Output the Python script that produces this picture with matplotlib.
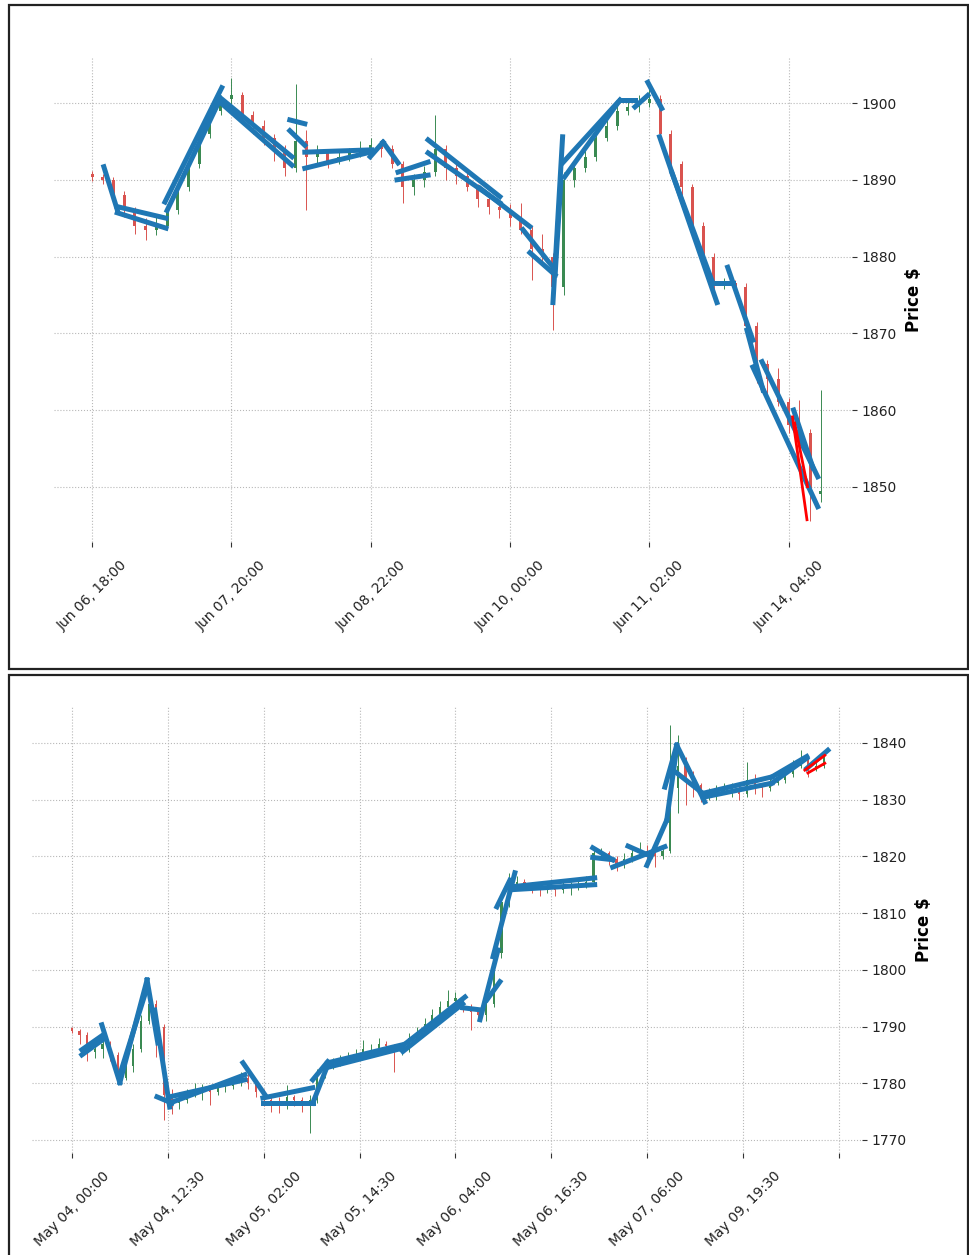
import numpy as np
import matplotlib
matplotlib.use("Agg")
import matplotlib.pyplot as plt
from matplotlib.patches import Rectangle

# --- June session (hourly index, one candle every 2 bars) ---
jun_open0 = 1890.8
jun_close = [1890.3, 1890.0, 1888.0, 1886.0, 1884.0, 1883.5, 1884.0, 1886.0, 1889.0, 1892.0,
             1896.0, 1899.0, 1900.5, 1901.0, 1898.5, 1897.0, 1895.5, 1894.0, 1891.5, 1895.0,
             1893.0, 1893.5, 1892.5, 1893.0, 1893.5, 1894.0, 1894.5, 1894.0, 1892.0, 1889.0,
             1890.0, 1891.0, 1894.0, 1891.5, 1890.5, 1889.0, 1887.5, 1886.5, 1886.0, 1885.0,
             1883.5, 1881.0, 1880.0, 1876.0, 1890.0, 1891.5, 1893.0, 1895.5, 1897.0, 1899.0,
             1899.5, 1900.0, 1900.5, 1896.0, 1892.0, 1889.0, 1884.0, 1880.0, 1876.5, 1876.5,
             1876.0, 1871.0, 1866.0, 1864.0, 1861.0, 1858.0, 1857.0, 1849.0, 1849.5]
jun_high = [1891.2, 1890.8, 1890.4, 1888.5, 1886.4, 1885.0, 1885.2, 1886.8, 1889.6, 1892.8,
            1896.5, 1899.8, 1901.0, 1903.2, 1901.5, 1899.0, 1897.8, 1896.0, 1894.5, 1902.5,
            1896.5, 1894.5, 1894.0, 1893.8, 1894.2, 1895.0, 1895.5, 1895.0, 1894.5, 1892.5,
            1890.8, 1891.8, 1898.5, 1894.5, 1892.0, 1891.0, 1889.5, 1888.0, 1887.0, 1886.8,
            1887.0, 1884.0, 1883.0, 1880.5, 1891.0, 1892.5, 1894.5, 1896.5, 1898.0, 1899.8,
            1900.5, 1901.0, 1902.8, 1901.0, 1896.5, 1892.5, 1889.5, 1884.5, 1880.5, 1877.2,
            1877.0, 1876.5, 1871.5, 1866.5, 1865.5, 1861.5, 1861.3, 1857.5, 1862.6]
jun_low = [1889.8, 1889.5, 1887.5, 1885.2, 1883.0, 1882.2, 1882.8, 1883.5, 1885.5, 1888.5,
           1891.5, 1895.5, 1898.5, 1899.8, 1897.8, 1896.0, 1894.5, 1892.5, 1890.5, 1891.0,
           1886.0, 1891.8, 1891.5, 1892.0, 1892.5, 1893.0, 1893.5, 1893.0, 1891.5, 1887.0,
           1888.0, 1889.0, 1890.5, 1890.0, 1889.5, 1888.5, 1886.5, 1885.5, 1885.0, 1884.0,
           1883.0, 1877.0, 1879.0, 1870.4, 1875.0, 1889.0, 1891.0, 1892.5, 1895.0, 1896.5,
           1898.5, 1898.8, 1899.5, 1895.5, 1891.0, 1888.0, 1883.0, 1879.0, 1875.5, 1875.8,
           1875.5, 1870.5, 1863.5, 1861.5, 1860.5, 1857.0, 1856.5, 1845.5, 1848.0]
jun_ticks = ["Jun 06, 18:00", "Jun 07, 20:00", "Jun 08, 22:00",
             "Jun 10, 00:00", "Jun 11, 02:00", "Jun 14, 04:00"]

# trend segments drawn over the June candles: (x0, y0, x1, y1)
jun_lines = [(2.2, 1891.7, 4.7, 1886.1), (4.7, 1886.5, 13.8, 1885.0), (4.7, 1885.7, 13.8, 1883.7),
             (13.6, 1887.1, 24.2, 1902.0), (14.0, 1886.0, 23.9, 1900.5),
             (23.9, 1900.7, 37.3, 1893.0), (23.9, 1900.1, 37.3, 1891.9),
             (36.9, 1897.8, 39.7, 1897.3), (36.9, 1896.4, 39.7, 1894.5),
             (39.7, 1893.6, 52.2, 1893.9), (39.7, 1891.5, 51.9, 1893.6),
             (51.9, 1893.0, 54.3, 1894.9), (54.3, 1894.9, 57.1, 1892.2),
             (56.9, 1890.0, 62.7, 1890.6), (57.1, 1891.0, 62.7, 1892.3),
             (62.7, 1895.2, 76.1, 1887.8), (62.7, 1893.5, 76.1, 1887.0),
             (72.4, 1888.9, 81.7, 1883.9), (80.4, 1883.5, 86.0, 1878.6),
             (81.7, 1880.5, 86.4, 1877.6), (86.0, 1874.0, 87.8, 1895.6),
             (86.4, 1877.6, 87.5, 1890.0), (87.8, 1892.2, 98.5, 1900.4),
             (88.2, 1890.4, 98.1, 1900.0), (98.5, 1900.4, 101.3, 1900.4),
             (101.3, 1899.5, 103.7, 1901.0), (103.7, 1902.7, 106.3, 1899.3),
             (105.9, 1895.6, 116.6, 1874.0), (108.2, 1890.9, 115.8, 1876.6),
             (115.8, 1876.6, 119.6, 1876.6), (118.6, 1878.6, 123.3, 1869.1),
             (122.2, 1870.4, 125.2, 1862.6), (125.0, 1866.3, 135.4, 1851.3),
             (123.3, 1865.6, 135.4, 1847.4), (130.9, 1860.0, 134.5, 1852.5)]
jun_red = [(130.7, 1859.1, 133.4, 1845.7), (131.1, 1858.3, 133.5, 1850.0)]

# --- May session (half-hour index, one candle every 2 bars) ---
may_open0 = 1789.8
may_close = [1789.2, 1788.5, 1785.5, 1786.0, 1787.0, 1785.0, 1781.0, 1783.0, 1786.0, 1791.0,
             1794.0, 1790.0, 1778.0, 1776.5, 1777.0, 1778.0, 1778.5, 1779.0, 1778.5, 1779.5,
             1779.5, 1780.0, 1781.0, 1780.0, 1778.5, 1777.0, 1776.5, 1776.0, 1777.5, 1777.0,
             1776.0, 1777.0, 1781.5, 1783.0, 1783.5, 1784.0, 1784.5, 1785.0, 1786.0, 1786.0,
             1787.0, 1786.5, 1786.0, 1786.0, 1788.0, 1789.0, 1790.5, 1792.0, 1793.5, 1794.5,
             1795.0, 1793.5, 1792.5, 1792.0, 1794.0, 1803.0, 1812.0, 1815.0, 1815.5, 1815.0,
             1814.5, 1814.0, 1814.5, 1814.0, 1814.5, 1814.5, 1815.0, 1815.5, 1820.5, 1820.5,
             1819.5, 1818.5, 1819.5, 1820.5, 1821.0, 1820.5, 1820.0, 1821.0, 1832.0, 1836.0,
             1834.0, 1832.5, 1831.0, 1831.0, 1831.5, 1832.0, 1832.0, 1831.0, 1833.5, 1832.5,
             1832.0, 1833.0, 1833.5, 1834.5, 1836.0, 1837.0, 1835.5, 1836.0, 1837.5]
may_high = [1790.0, 1789.6, 1789.0, 1787.0, 1788.0, 1787.5, 1785.5, 1784.0, 1787.0, 1792.0,
            1795.0, 1794.7, 1790.5, 1779.0, 1778.5, 1779.0, 1780.0, 1779.8, 1779.5, 1780.3,
            1780.5, 1781.0, 1782.0, 1781.8, 1780.5, 1779.0, 1777.5, 1777.5, 1779.7, 1778.0,
            1777.5, 1778.0, 1782.5, 1784.0, 1784.5, 1785.0, 1785.5, 1786.0, 1787.6, 1787.0,
            1788.0, 1787.5, 1787.0, 1787.0, 1788.8, 1790.0, 1791.5, 1793.0, 1794.5, 1796.5,
            1796.0, 1795.5, 1794.0, 1793.0, 1794.7, 1804.0, 1812.8, 1817.0, 1816.5, 1816.0,
            1815.5, 1815.0, 1815.2, 1815.0, 1815.5, 1815.5, 1816.0, 1816.5, 1821.5, 1821.5,
            1821.0, 1820.0, 1820.5, 1821.5, 1822.5, 1822.0, 1821.0, 1822.0, 1843.1, 1841.4,
            1837.5, 1835.0, 1833.0, 1832.0, 1832.5, 1833.0, 1833.0, 1832.5, 1836.6, 1834.5,
            1833.0, 1834.0, 1834.5, 1835.5, 1837.0, 1838.7, 1837.5, 1837.0, 1838.5]
may_low = [1788.8, 1787.0, 1784.0, 1784.5, 1784.5, 1784.0, 1780.0, 1780.5, 1782.0, 1785.5,
           1790.5, 1784.6, 1773.6, 1774.5, 1775.5, 1776.5, 1777.5, 1777.0, 1776.2, 1778.0,
           1778.5, 1779.0, 1779.5, 1779.0, 1777.5, 1776.0, 1775.0, 1774.8, 1775.5, 1776.0,
           1775.0, 1771.3, 1776.5, 1781.0, 1782.5, 1783.0, 1783.5, 1784.0, 1784.5, 1785.0,
           1785.5, 1785.5, 1782.0, 1785.0, 1785.5, 1787.5, 1788.5, 1790.0, 1791.5, 1792.5,
           1793.5, 1792.5, 1789.4, 1791.0, 1791.0, 1793.5, 1802.0, 1811.0, 1814.0, 1814.0,
           1813.5, 1813.0, 1813.5, 1813.0, 1813.5, 1813.2, 1814.0, 1814.5, 1815.0, 1819.5,
           1818.5, 1817.5, 1818.0, 1819.0, 1820.0, 1819.5, 1818.1, 1819.5, 1820.5, 1827.6,
           1829.0, 1830.5, 1829.5, 1830.0, 1830.0, 1831.0, 1830.5, 1830.0, 1830.5, 1831.0,
           1830.5, 1831.5, 1832.5, 1833.0, 1834.0, 1835.5, 1834.0, 1835.0, 1835.5]
may_ticks = ["May 04, 00:00", "May 04, 12:30", "May 05, 02:00", "May 05, 14:30",
             "May 06, 04:00", "May 06, 16:30", "May 07, 06:00", "May 09, 19:30", ""]

may_lines = [(2.6, 1785.9, 8.1, 1788.5), (2.6, 1785.0, 8.1, 1787.7),
             (7.8, 1790.3, 12.5, 1780.1), (12.5, 1780.1, 19.6, 1798.2),
             (12.5, 1781.5, 19.2, 1796.0), (19.6, 1798.2, 22.4, 1787.1),
             (21.6, 1792.9, 25.5, 1775.8), (22.2, 1777.6, 26.1, 1776.5),
             (25.5, 1777.6, 45.1, 1780.6), (25.5, 1776.5, 45.1, 1781.5),
             (44.6, 1783.6, 50.3, 1778.0), (49.8, 1777.4, 62.8, 1779.2),
             (49.8, 1776.5, 62.8, 1776.5), (62.8, 1776.5, 66.7, 1783.2),
             (62.8, 1780.6, 66.7, 1783.8), (66.7, 1783.6, 86.3, 1786.8),
             (66.7, 1782.8, 86.3, 1786.2), (85.5, 1786.2, 102.5, 1795.2),
             (86.3, 1785.6, 101.9, 1794.0), (101.9, 1793.3, 106.9, 1792.9),
             (106.4, 1791.2, 111.1, 1803.5), (108.2, 1794.7, 111.6, 1797.9),
             (109.8, 1802.3, 115.5, 1817.1), (110.8, 1811.1, 114.2, 1815.8),
             (114.2, 1814.6, 136.3, 1816.2), (114.2, 1814.1, 136.3, 1815.0),
             (135.8, 1821.5, 141.0, 1819.4), (135.8, 1819.8, 141.0, 1819.4),
             (141.0, 1818.1, 154.6, 1821.7), (145.0, 1821.8, 151.0, 1820.0),
             (149.9, 1818.4, 155.1, 1826.4), (155.1, 1826.4, 157.7, 1839.2),
             (154.6, 1832.2, 157.7, 1839.6), (157.7, 1839.6, 165.0, 1829.6),
             (157.7, 1834.7, 164.5, 1831.1), (164.5, 1831.1, 182.5, 1834.0),
             (164.5, 1830.4, 182.5, 1832.9), (182.5, 1832.9, 191.6, 1837.3),
             (182.5, 1834.0, 191.6, 1837.6), (191.6, 1835.5, 197.1, 1838.7)]
may_red = [(191.1, 1835.2, 196.3, 1837.8), (191.9, 1834.7, 196.3, 1836.4)]

UP = "#3a8a52"
DOWN = "#d9534f"
LINE_BLUE = "#1f77b4"


def draw_panel(ax, open0, close, high, low, step, lines, red, ticks, tick_step, ylim, xlim, yticks):
    close = np.asarray(close)
    opens = np.concatenate([[open0], close[:-1]])
    x = np.arange(len(close)) * step
    for xi, o, h, l, c in zip(x, opens, high, low, close):
        col = UP if c >= o else DOWN
        ax.vlines(xi, l, h, color=col, lw=0.7, zorder=2)
        ax.add_patch(Rectangle((xi - 0.14 * step, min(o, c)), 0.28 * step,
                               max(abs(c - o), 0.08), color=col, lw=0, zorder=2))
    for x0, y0, x1, y1 in lines:
        ax.plot([x0, x1], [y0, y1], color=LINE_BLUE, lw=3.6, zorder=3)
    for x0, y0, x1, y1 in red:
        ax.plot([x0, x1], [y0, y1], color="red", lw=2.0, zorder=4)

    ax.set_xlim(*xlim)
    ax.set_ylim(*ylim)
    ax.set_xticks(np.arange(len(ticks)) * tick_step)
    ax.set_xticklabels(ticks, rotation=45, fontsize=10, color="#222222")
    ax.set_yticks(yticks)
    ax.yaxis.tick_right()
    ax.yaxis.set_label_position("right")
    ax.set_ylabel("Price $", fontsize=12, fontweight="bold", labelpad=6)
    ax.tick_params(axis="y", labelsize=10, labelcolor="#222222", length=3.5, color="#333333")
    ax.tick_params(axis="x", length=3.5, pad=8, color="#333333")
    for sp in ax.spines.values():
        sp.set_visible(False)
    ax.grid(True, linestyle=":", color="#b8b8b8", lw=0.8)
    ax.set_axisbelow(True)


W, H = 969, 1255
fig = plt.figure(figsize=(W / 100, H / 100), dpi=100)

ax_top = fig.add_axes([54 / W, 1 - 542 / H, (852 - 54) / W, (542 - 57) / H])
draw_panel(ax_top, jun_open0, jun_close, jun_high, jun_low, 2, jun_lines, jun_red,
           jun_ticks, 26, (1842.8, 1906.0), (-7.1, 141.8), np.arange(1850, 1901, 10))

ax_bot = fig.add_axes([32 / W, 1 - 1153 / H, (862 - 32) / W, (1153 - 706) / H])
draw_panel(ax_bot, may_open0, may_close, may_high, may_low, 2, may_lines, may_red,
           may_ticks, 25, (1767.7, 1846.5), (-10.4, 206.0), np.arange(1770, 1841, 10))

# frames around the two panels
fig.add_artist(Rectangle((9 / W, 1 - 669 / H), 959 / W, 664 / H, transform=fig.transFigure,
                         fill=False, ec="#222222", lw=1.6))
fig.add_artist(Rectangle((9 / W, -0.01), 959 / W, 1 - 675 / H + 0.01, transform=fig.transFigure,
                         fill=False, ec="#222222", lw=1.6))

fig.savefig("out.png", dpi=100)
